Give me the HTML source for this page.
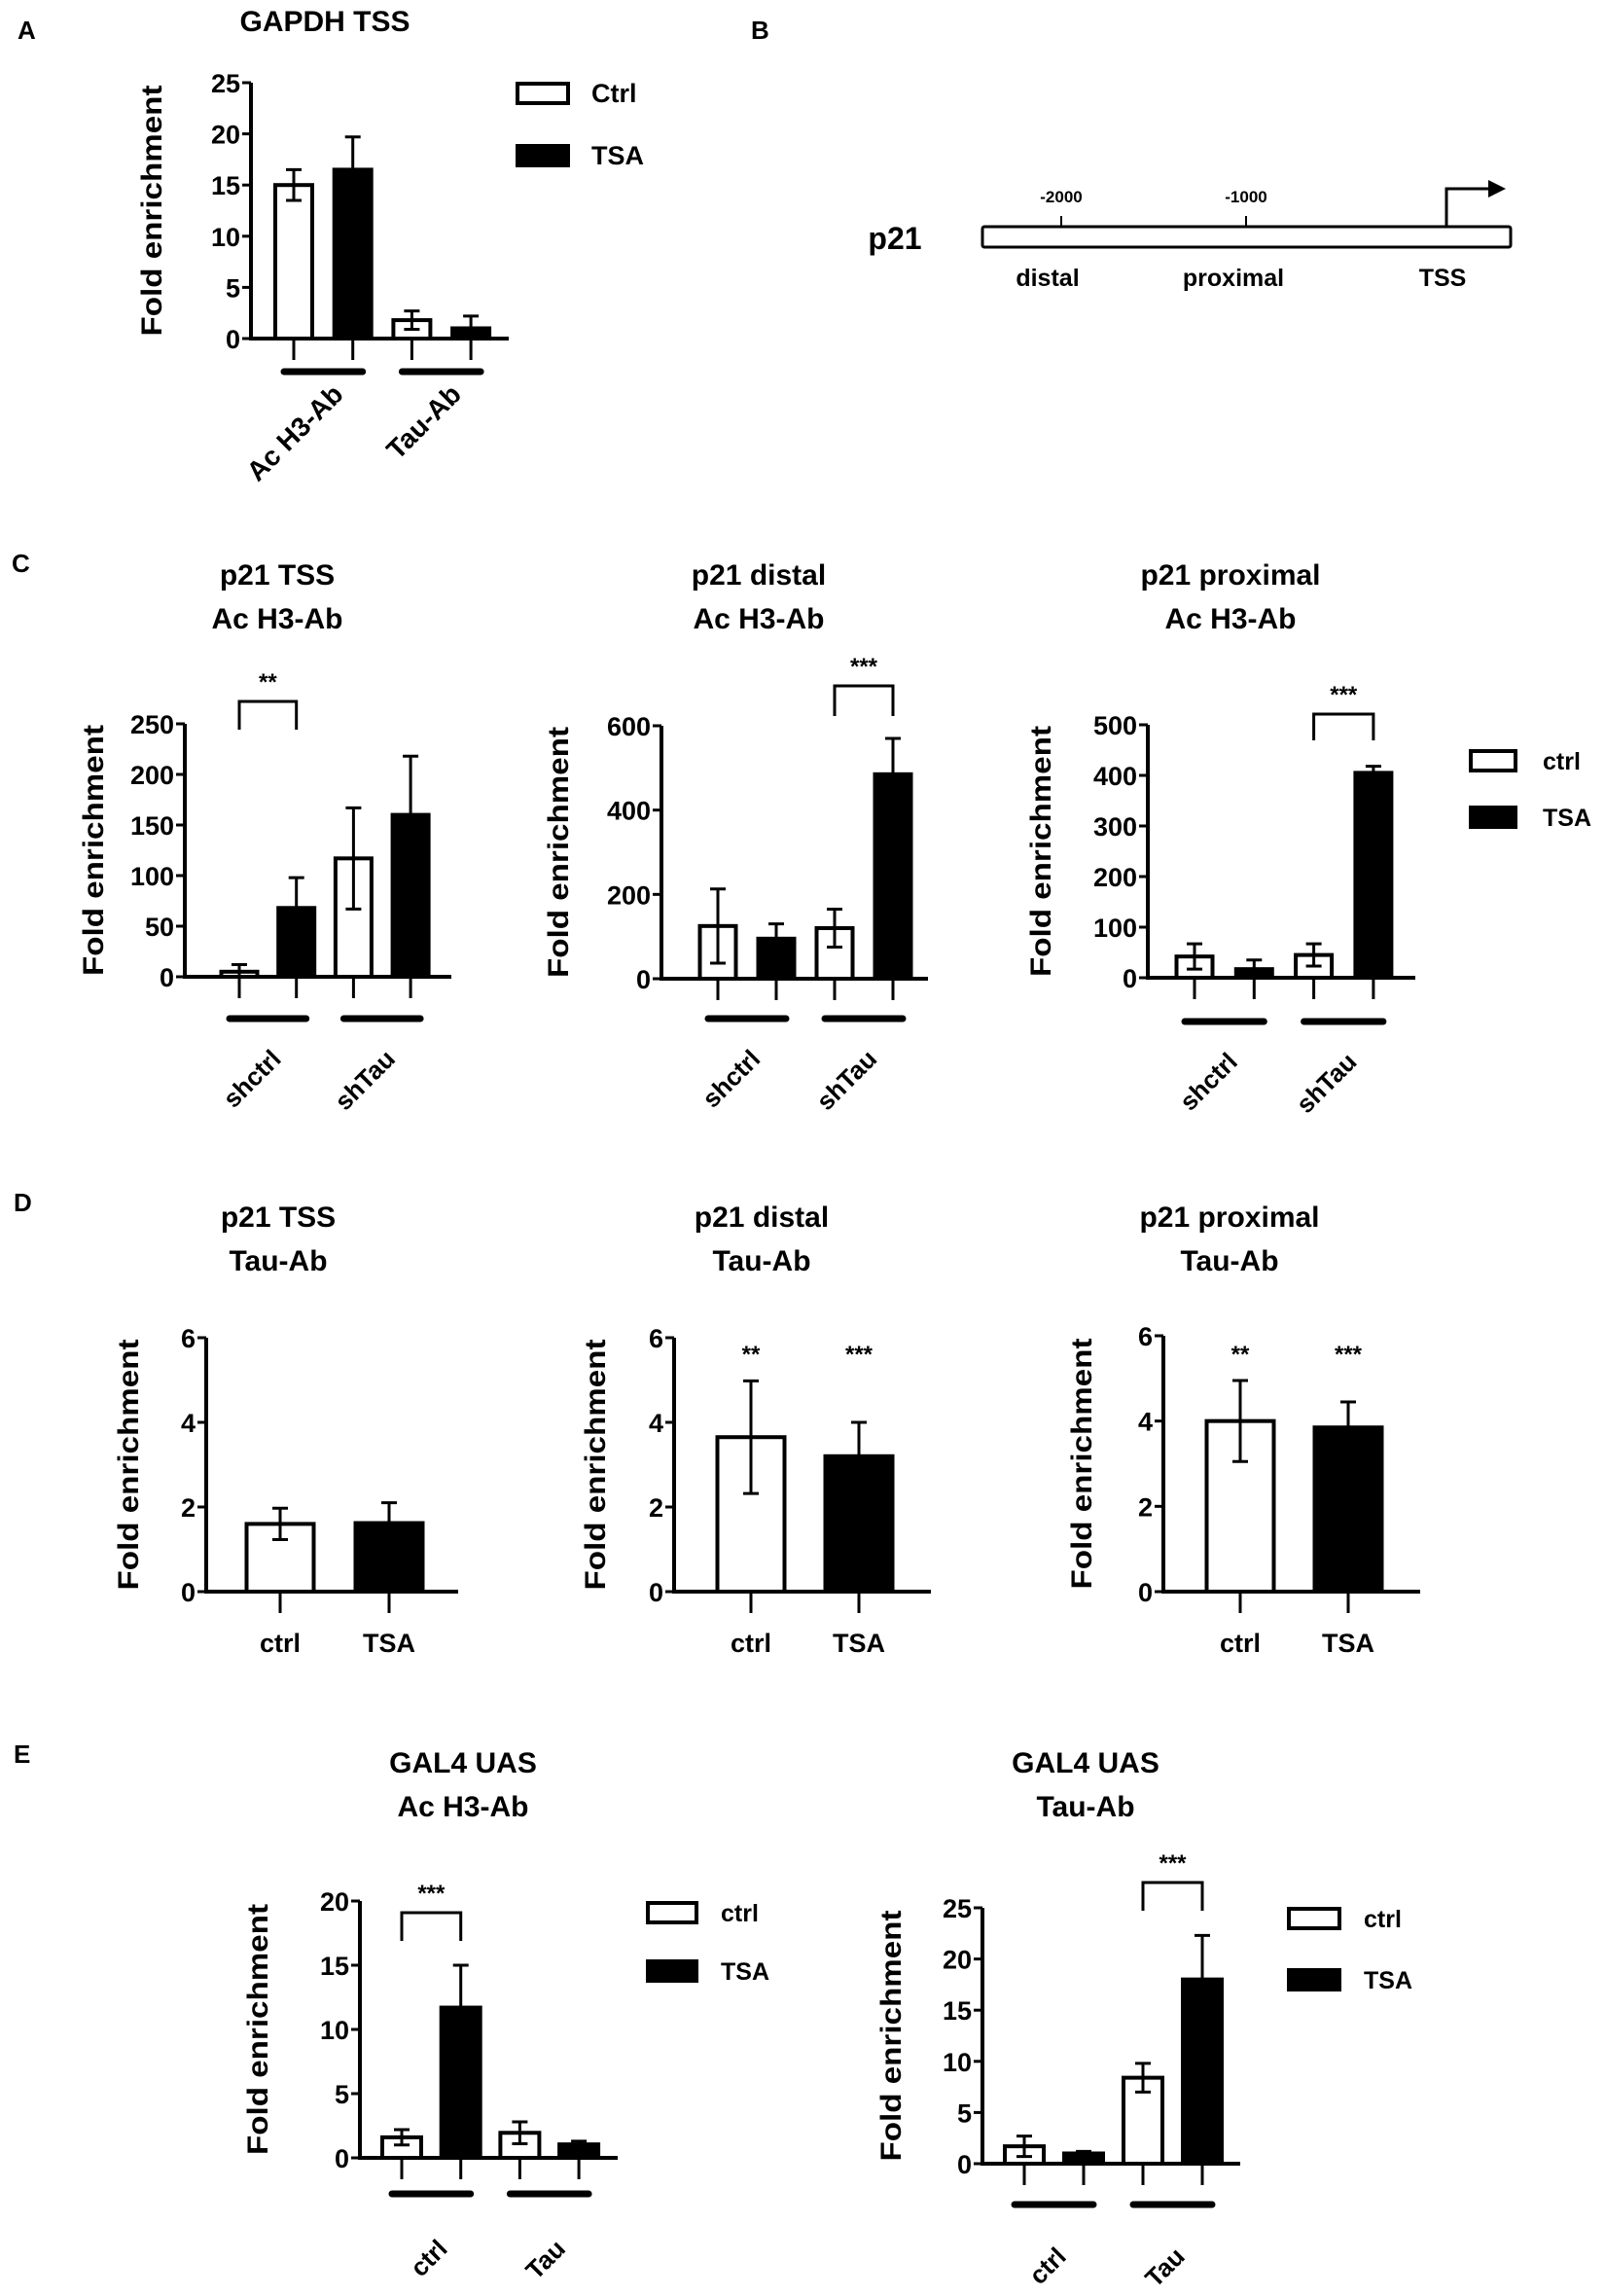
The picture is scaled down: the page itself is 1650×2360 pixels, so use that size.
<!DOCTYPE html>
<html><head><meta charset="utf-8"><style>
html,body{margin:0;padding:0;background:#fff;}
svg{display:block;font-family:"Liberation Sans",Arial,sans-serif;font-weight:bold;}
</style></head><body>
<svg id="fig" width="1650" height="2360" viewBox="0 0 1650 2360" xmlns="http://www.w3.org/2000/svg">
<rect x="0" y="0" width="1650" height="2360" fill="#fff"/>
<g font-size="26">
<text x="18" y="40">A</text>
<text x="772" y="40">B</text>
<text x="12" y="588">C</text>
<text x="14" y="1245">D</text>
<text x="14" y="1812">E</text>
</g>
<g>
<rect x="1010" y="233" width="543" height="21" fill="#fff" stroke="#000" stroke-width="3" rx="2"/>
<line x1="1091" y1="222" x2="1091" y2="234" stroke="#000" stroke-width="2"/>
<line x1="1281" y1="222" x2="1281" y2="234" stroke="#000" stroke-width="2"/>
<polyline points="1487,233 1487,194 1532,194" fill="none" stroke="#000" stroke-width="3"/>
<polygon points="1530,185 1548,194 1530,203" fill="#000"/>
<text x="1091" y="208" font-size="17" text-anchor="middle">-2000</text>
<text x="1281" y="208" font-size="17" text-anchor="middle">-1000</text>
<text x="920" y="256" font-size="32" text-anchor="middle">p21</text>
<text x="1077" y="294" font-size="25" text-anchor="middle">distal</text>
<text x="1268" y="294" font-size="25" text-anchor="middle">proximal</text>
<text x="1483" y="294" font-size="25" text-anchor="middle">TSS</text>
</g>
<g id="charts"></g>
</svg>
<script>
// ---- data ----
const aCats = ['Ac H3-Ab','Tau-Ab'];
const aVals = [15, 16.5, 1.8, 1.0];
const aErrs = [1.5, 3.2, 0.9, 1.2];
const aTicks = [0,5,10,15,20,25];

const c1Vals = [5, 68, 117, 160];
const c1Errs = [7, 30, 50, 58];
const c2Vals = [125, 95, 120, 485];
const c2Errs = [88, 35, 45, 85];
const c3Vals = [42, 17, 45, 405];
const c3Errs = [25, 18, 22, 13];
const cCats = ['shctrl','shTau'];
const c1Ticks = [0,50,100,150,200,250];
const c2Ticks = [0,200,400,600];
const c3Ticks = [0,100,200,300,400,500];

const dCats = ['ctrl','TSA'];
const d1Vals = [1.6, 1.62];
const d1Errs = [0.37, 0.48];
const d2Vals = [3.65, 3.2];
const d2Errs = [1.33, 0.8];
const d3Vals = [4.0, 3.85];
const d3Errs = [0.95, 0.6];
const dTicks = [0,2,4,6];
const d2Stars = ['**','***'];
const d3Stars = ['**','***'];

const eCats = ['ctrl','Tau'];
const e1Vals = [1.6, 11.7, 1.95, 1.05];
const e1Errs = [0.6, 3.3, 0.85, 0.25];
const e2Vals = [1.7, 1.0, 8.4, 18.0];
const e2Errs = [1.0, 0.2, 1.4, 4.3];
const e1Ticks = [0,5,10,15,20];
const e2Ticks = [0,5,10,15,20,25];

const NS = 'http://www.w3.org/2000/svg';
const root = document.getElementById('charts');
function mk(tag, attrs, parent){
  const e = document.createElementNS(NS, tag);
  for (const k in attrs) e.setAttribute(k, attrs[k]);
  (parent||root).appendChild(e);
  return e;
}

function chart(cfg, vals, errs, ticks, cats, opts){
  const g = mk('g', {});
  
  
  const ymax = ticks[ticks.length-1];
  const ys = v => cfg.y0 - (v/ymax)*(cfg.y0-cfg.yTop);
  const xs = i => cfg.ax + cfg.off + i*cfg.gap;
  cfg.titles.forEach((t,k)=>{
    const tt = mk('text', {x:cfg.tx, y:cfg.ty + k*45, 'font-size':30, 'text-anchor':'middle'}, g);
    
    
    tt.textContent = t;
  });
  const yt = mk('text', {x:0, y:0, 'font-size':30, 'text-anchor':'middle', textLength:258, lengthAdjust:'spacingAndGlyphs',
    transform:`translate(${cfg.ytx},${(cfg.yTop+cfg.y0)/2}) rotate(-90)`}, g);
  
  
  yt.textContent = 'Fold enrichment';
  vals.forEach((v,i)=>{
    const cx = xs(i), w = cfg.bw;
    const black = (i%2===1);
    const r = mk('rect', {x:cx-w/2, y:ys(v), width:w, height:cfg.y0-ys(v), fill: black?'#000':'#fff', stroke:'#000', 'stroke-width':4}, g);
    
    
    const hi = ys(v+errs[i]), lo = ys(Math.max(0, v-errs[i]));
    const el = mk('path', {d:`M${cx},${lo}V${hi}M${cx-8},${hi}H${cx+8}M${cx-8},${lo}H${cx+8}`, stroke:'#000', 'stroke-width':3, fill:'none'}, g);
    
    
    mk('line', {x1:cx, y1:cfg.y0, x2:cx, y2:cfg.y0+22, stroke:'#000', 'stroke-width':3}, g);
    if (opts.stars && opts.stars[i]) {
      const s = mk('text', {x:cx, y:cfg.starY, 'font-size':24, 'text-anchor':'middle'}, g);
      
      
      s.textContent = opts.stars[i];
    }
  });
  mk('path', {d:`M${cfg.ax},${cfg.yTop}V${cfg.y0}H${cfg.xEnd}`, stroke:'#000', 'stroke-width':4, fill:'none'}, g);
  ticks.forEach(t=>{
    mk('line', {x1:cfg.ax-9, y1:ys(t), x2:cfg.ax, y2:ys(t), stroke:'#000', 'stroke-width':3}, g);
    const tl = mk('text', {x:cfg.ax-11, y:ys(t)+10, 'font-size':27, 'text-anchor':'end'}, g);
    
    
    tl.textContent = t;
  });
  if (opts.grouped) {
    cats.forEach((c,j)=>{
      const a = xs(2*j), b = xs(2*j+1);
      const gl = mk('line', {x1:a-10, y1:cfg.gy, x2:b+10, y2:cfg.gy, stroke:'#000', 'stroke-width':7, 'stroke-linecap':'round'}, g);
      
      
      const cx = (a+b)/2 + (cfg.lblDx||14), cy = cfg.gy + cfg.lblDy;
      const lb = mk('text', {x:0, y:0, 'font-size':cfg.lblFs||26, 'text-anchor':'end',
        transform:`translate(${cx},${cy}) rotate(-45)`}, g);
      
      
      lb.textContent = c;
    });
  } else {
    cats.forEach((c,i)=>{
      const lb = mk('text', {x:xs(i), y:cfg.y0+62, 'font-size':27, 'text-anchor':'middle'}, g);
      
      
      lb.textContent = c;
    });
  }
  if (opts.bracket) {
    const [i,j,lab] = opts.bracket;
    const a = xs(i), b = xs(j);
    const br = mk('path', {d:`M${a},${cfg.bLeg}V${cfg.bTop}H${b}V${cfg.bLeg}`, stroke:'#000', 'stroke-width':3, fill:'none'}, g);
    
    
    const st = mk('text', {x:(a+b)/2, y:cfg.bTop-12, 'font-size':24, 'text-anchor':'middle'}, g);
    
    
    st.textContent = lab;
  }
  if (opts.legend) {
    const L = opts.legend;
    ['ctrl','TSA'].forEach((lab,k)=>{
      const y = L.y[k];
      const lr = mk('rect', {x:L.x, y:y-10, width:L.w, height:20, fill:k?'#000':'#fff', stroke:'#000', 'stroke-width':4}, g);
      
      
      const lt = mk('text', {x:L.tx, y:y+9, 'font-size':L.fs||25}, g);
      
      
      lt.textContent = L.labels[k];
    });
  }
}

// A
chart({name:'chart-a-gapdh', ax:258, off:44, gap:60.7, bw:38, yTop:85, y0:348, xEnd:523, titles:['GAPDH TSS'], tx:334, ty:32, ytx:166, gy:382, lblDy:25, lblDx:22, lblFs:28},
  aVals, aErrs, aTicks, aCats, {grouped:true, legend:{x:532, w:52, tx:608, y:[96,160], labels:['Ctrl','TSA'], fs:27}});
// C
chart({name:'chart-c-tss', ax:190, off:56, gap:58.7, bw:37, yTop:744, y0:1004, xEnd:464, titles:['p21 TSS','Ac H3-Ab'], tx:285, ty:601, ytx:106, gy:1047, lblDy:43, lblDx:15, bTop:721, bLeg:750},
  c1Vals, c1Errs, c1Ticks, cCats, {grouped:true, bracket:[0,1,'**']});
chart({name:'chart-c-distal', ax:680, off:58, gap:60, bw:37, yTop:746, y0:1006, xEnd:954, titles:['p21 distal','Ac H3-Ab'], tx:780, ty:601, ytx:584, gy:1047, lblDy:43, lblDx:15, bTop:705, bLeg:736},
  c2Vals, c2Errs, c2Ticks, cCats, {grouped:true, bracket:[2,3,'***']});
chart({name:'chart-c-proximal', ax:1180, off:48, gap:61.3, bw:37, yTop:745, y0:1005, xEnd:1455, titles:['p21 proximal','Ac H3-Ab'], tx:1265, ty:601, ytx:1080, gy:1050, lblDy:43, lblDx:15, bTop:734, bLeg:761},
  c3Vals, c3Errs, c3Ticks, cCats, {grouped:true, bracket:[2,3,'***'], legend:{x:1512, w:46, tx:1586, y:[782,840], labels:['ctrl','TSA']}});
// D
chart({name:'chart-d-tss', ax:212, off:76, gap:112, bw:69, yTop:1375, y0:1636, xEnd:471, titles:['p21 TSS','Tau-Ab'], tx:286, ty:1261, ytx:142},
  d1Vals, d1Errs, dTicks, dCats, {});
chart({name:'chart-d-distal', ax:693, off:79, gap:111, bw:69, yTop:1375, y0:1636, xEnd:957, titles:['p21 distal','Tau-Ab'], tx:783, ty:1261, ytx:622, starY:1400},
  d2Vals, d2Errs, dTicks, dCats, {stars:d2Stars});
chart({name:'chart-d-proximal', ax:1196, off:79, gap:111, bw:69, yTop:1373, y0:1636, xEnd:1460, titles:['p21 proximal','Tau-Ab'], tx:1264, ty:1261, ytx:1122, starY:1400},
  d3Vals, d3Errs, dTicks, dCats, {stars:d3Stars});
// E
chart({name:'chart-e-acH3', ax:370, off:43, gap:60.7, bw:40, yTop:1954, y0:2218, xEnd:635, titles:['GAL4 UAS','Ac H3-Ab'], tx:476, ty:1822, ytx:275, gy:2255, lblDy:58, lblDx:18, bTop:1966, bLeg:1995},
  e1Vals, e1Errs, e1Ticks, eCats, {grouped:true, bracket:[0,1,'***'], legend:{x:666, w:50, tx:741, y:[1966,2026], labels:['ctrl','TSA']}});
chart({name:'chart-e-tau', ax:1010, off:43, gap:61, bw:40, yTop:1961, y0:2224, xEnd:1275, titles:['GAL4 UAS','Tau-Ab'], tx:1116, ty:1822, ytx:926, gy:2266, lblDy:55, lblDx:14, bTop:1935, bLeg:1964},
  e2Vals, e2Errs, e2Ticks, eCats, {grouped:true, bracket:[2,3,'***'], legend:{x:1325, w:52, tx:1402, y:[1972,2035], labels:['ctrl','TSA']}});
</script>
</body></html>
